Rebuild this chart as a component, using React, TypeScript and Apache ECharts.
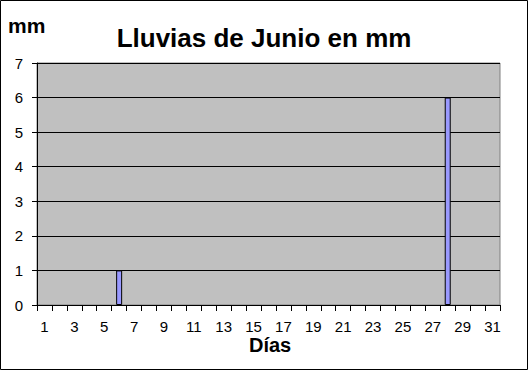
import React, { useEffect, useRef } from "react";
import * as echarts from "echarts";

const days: string[] = Array.from({ length: 31 }, (_, i) => String(i + 1));
const rainfall: number[] = [
  0, 0, 0, 0, 0, 1, 0, 0, 0, 0, 0, 0, 0, 0, 0, 0, 0, 0, 0, 0, 0, 0, 0, 0, 0, 0, 0, 6, 0, 0, 0,
];
const titleText = "Lluvias de Junio en mm";
const yUnit = "mm";
const xName = "Días";

export default function App() {
  const ref = useRef<HTMLDivElement>(null);
  useEffect(() => {
    if (!ref.current) return;
    const chart = echarts.init(ref.current, undefined, { renderer: "svg" });
    const font = "'Liberation Sans', Arial, sans-serif";
    chart.setOption({
      animation: false,
      backgroundColor: "#ffffff",
      title: {
        text: titleText,
        left: "center",
        top: 20,
        textStyle: { fontFamily: font, fontSize: 26, fontWeight: "bold", color: "#000" },
      },
      graphic: [
        {
          type: "rect",
          shape: { x: 0.5, y: 0.5, width: 527, height: 369 },
          style: { fill: "none", stroke: "#000", lineWidth: 1 },
          silent: true,
        },
        {
          type: "text",
          left: 8,
          top: 15,
          style: { text: yUnit, font: `bold 21px ${font}`, fill: "#000" },
        },
        {
          type: "text",
          left: 249,
          top: 335,
          style: { text: xName, font: `bold 20px ${font}`, fill: "#000" },
        },
      ],
      grid: {
        left: 37,
        right: 28,
        top: 63,
        bottom: 65,
        show: true,
        backgroundColor: "#C0C0C0",
        borderColor: "#808080",
        borderWidth: 1,
      },
      xAxis: {
        type: "category",
        data: days,
        boundaryGap: true,
        axisLine: { lineStyle: { color: "#000", width: 1 } },
        axisTick: { show: true, interval: 0, length: 6, lineStyle: { color: "#000" } },
        axisLabel: {
          interval: 1,
          margin: 14,
          fontFamily: font,
          fontSize: 15,
          color: "#000",
        },
        splitLine: { show: false },
      },
      yAxis: {
        type: "value",
        min: 0,
        max: 7,
        interval: 1,
        axisLine: { show: true, lineStyle: { color: "#000", width: 1 } },
        axisTick: { show: true, length: 5, lineStyle: { color: "#000" } },
        axisLabel: { margin: 14, fontFamily: font, fontSize: 15, color: "#000" },
        splitLine: {
          show: true,
          lineStyle: { color: "#000", width: 1 },
        },
      },
      series: [
        {
          type: "bar",
          data: rainfall.map((v) => (v === 0 ? null : v)),
          barWidth: 6,
          itemStyle: { color: "#9999FF", borderColor: "#000", borderWidth: 1 },
        },
      ],
    });
    return () => chart.dispose();
  }, []);
  return (
    <div
      ref={ref}
      style={{ position: "absolute", left: 0, top: 0, width: 528, height: 370 }}
    />
  );
}
